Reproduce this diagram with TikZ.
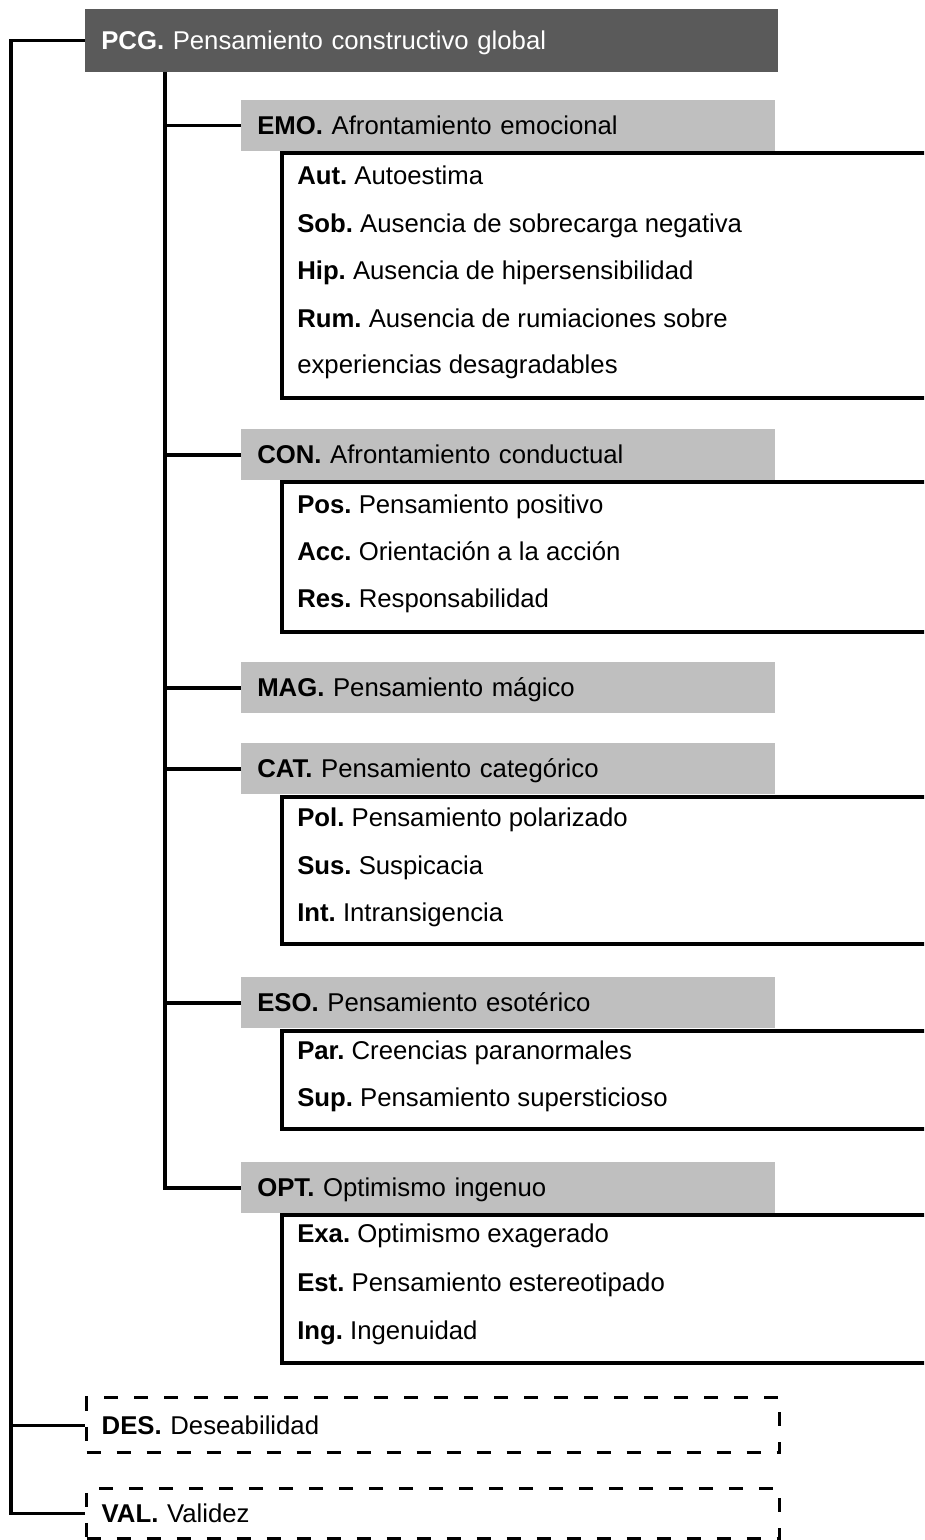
\documentclass[tikz,border=0pt]{standalone}
\usepackage{fontspec}
\setmainfont{Liberation Sans}
\frenchspacing
\definecolor{darkbox}{HTML}{5A5A5A}
\definecolor{lightbox}{HTML}{BFBFBF}
\tikzset{
  lw/.style={line width=2.6pt},
  txt/.style={font=\fontsize{19.3pt}{23pt}\selectfont, text height=13.8pt, text depth=0pt},
  topbox/.style={txt, fill=darkbox, text=white, anchor=north west, inner xsep=12pt, inner ysep=0pt,
    minimum height=47.25pt, text width=495.75pt, align=left},
  catbox/.style={txt, fill=lightbox, anchor=north west, inner xsep=12pt, inner ysep=0pt,
    minimum height=38.25pt, text width=376.5pt, align=left},
  item/.style={txt, anchor=west, inner sep=0pt},
  extbox/.style={txt, draw, line width=2.6pt, dash pattern=on 10.5pt off 12pt, anchor=north west,
    inner xsep=11.25pt, inner ysep=0pt, text width=497.25pt, align=left},
}
\begin{document}
\begin{tikzpicture}[x=0.75pt,y=-0.75pt]
\useasboundingbox (0,0) rectangle (924,1540);
\clip (0,0) rectangle (924,1540);
\fill[white] (0,0) rectangle (924,1540);

% top node
\node[topbox] (pcg) at (85,9) {\textbf{PCG.} Pensamiento constructivo global};

% category boxes
\node[catbox] (emo) at (241,100) {\textbf{EMO.} Afrontamiento emocional};
\node[catbox] (con) at (241,429) {\textbf{CON.} Afrontamiento conductual};
\node[catbox] (mag) at (241,662) {\textbf{MAG.} Pensamiento mágico};
\node[catbox] (cat) at (241,743) {\textbf{CAT.} Pensamiento categórico};
\node[catbox] (eso) at (241,977) {\textbf{ESO.} Pensamiento esotérico};
\node[catbox] (opt) at (241,1162) {\textbf{OPT.} Optimismo ingenuo};

% dashed boxes
\node[extbox, minimum height=41.25pt, minimum width=519.75pt] (des) at (85,1396) {\textbf{DES.} Deseabilidad};
\node[extbox, minimum height=37.5pt, minimum width=519.75pt] (val) at (85,1487) {\textbf{VAL.} Validez};

% frames of sub lists
\coordinate (far) at (940,0);
\coordinate (emoA) at (282,153);  \coordinate (emoB) at (282,398);
\coordinate (conA) at (282,482);  \coordinate (conB) at (282,632);
\coordinate (catA) at (282,797);  \coordinate (catB) at (282,944);
\coordinate (esoA) at (282,1031); \coordinate (esoB) at (282,1129);
\coordinate (optA) at (282,1215); \coordinate (optB) at (282,1363);
\foreach \s in {emo,con,cat,eso,opt}{
  \draw[lw] (\s A -| far) -- (\s A) -- (\s B) -- (\s B -| far);
}

% items
\node[item] (aut) at (297,175) {\textbf{Aut.} Autoestima};
\node[item] (sob) at (297,223) {\textbf{Sob.} Ausencia de sobrecarga negativa};
\node[item] (hip) at (297,270) {\textbf{Hip.} Ausencia de hipersensibilidad};
\node[item] (rum) at (297,318) {\textbf{Rum.} Ausencia de rumiaciones sobre};
\node[item] (rum2) at (297,364) {experiencias desagradables};

\node[item] (pos) at (297,504) {\textbf{Pos.} Pensamiento positivo};
\node[item] (acc) at (297,551) {\textbf{Acc.} Orientación a la acción};
\node[item] (res) at (297,598) {\textbf{Res.} Responsabilidad};

\node[item] (pol) at (297,817) {\textbf{Pol.} Pensamiento polarizado};
\node[item] (sus) at (297,865) {\textbf{Sus.} Suspicacia};
\node[item] (int) at (297,912) {\textbf{Int.} Intransigencia};

\node[item] (par) at (297,1050) {\textbf{Par.} Creencias paranormales};
\node[item] (sup) at (297,1097) {\textbf{Sup.} Pensamiento supersticioso};

\node[item] (exa) at (297,1233) {\textbf{Exa.} Optimismo exagerado};
\node[item] (est) at (297,1282) {\textbf{Est.} Pensamiento estereotipado};
\node[item] (ing) at (297,1330) {\textbf{Ing.} Ingenuidad};

% connectors
\coordinate (outer) at (11,42);
\coordinate (inner) at (165,72);
\draw[lw] (pcg.west) -- (pcg.west -| outer) |- (val.west);
\draw[lw] (des.west) -- (des.west -| outer);
\draw[lw] (inner) |- (opt.west);
\foreach \s in {emo,con,mag,cat,eso}{
  \draw[lw] (\s.west) -- (\s.west -| inner);
}
\end{tikzpicture}
\end{document}
